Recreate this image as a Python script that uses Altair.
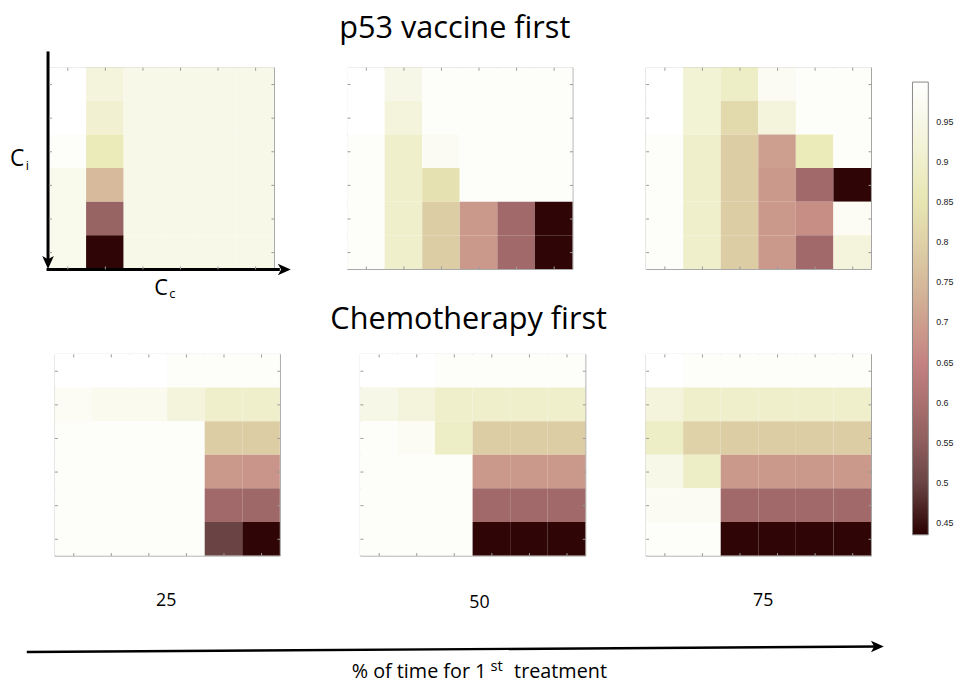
import altair as alt
import pandas as pd

# ---- data: cell values (rows top->bottom, cols left->right)
p53_25 = [
    [1.000, 0.930, 0.955, 0.955, 0.955, 0.955],
    [1.000, 0.910, 0.955, 0.955, 0.955, 0.955],
    [0.990, 0.870, 0.955, 0.955, 0.955, 0.955],
    [0.960, 0.750, 0.955, 0.955, 0.955, 0.955],
    [0.960, 0.565, 0.955, 0.955, 0.955, 0.955],
    [0.960, 0.440, 0.955, 0.955, 0.955, 0.955],
]
p53_50 = [
    [1.000, 0.950, 0.990, 0.990, 0.990, 0.990],
    [1.000, 0.930, 0.990, 0.990, 0.990, 0.990],
    [0.990, 0.900, 0.975, 0.990, 0.990, 0.990],
    [0.990, 0.900, 0.840, 0.990, 0.990, 0.990],
    [0.990, 0.900, 0.790, 0.690, 0.580, 0.440],
    [0.990, 0.900, 0.790, 0.690, 0.580, 0.440],
]
p53_75 = [
    [1.000, 0.915, 0.890, 0.975, 0.990, 0.990],
    [1.000, 0.915, 0.820, 0.930, 0.990, 0.990],
    [0.990, 0.900, 0.790, 0.700, 0.870, 0.990],
    [0.990, 0.900, 0.790, 0.690, 0.580, 0.440],
    [0.990, 0.900, 0.790, 0.690, 0.670, 0.980],
    [0.990, 0.900, 0.790, 0.690, 0.580, 0.930],
]
chemo_25 = [
    [1.000, 1.000, 1.000, 0.990, 0.990, 0.990],
    [0.980, 0.965, 0.965, 0.930, 0.900, 0.900],
    [0.990, 0.990, 0.990, 0.990, 0.790, 0.790],
    [0.990, 0.990, 0.990, 0.990, 0.690, 0.680],
    [0.990, 0.990, 0.990, 0.990, 0.580, 0.575],
    [0.990, 0.990, 0.990, 0.990, 0.500, 0.440],
]
chemo_50 = [
    [1.000, 1.000, 0.990, 0.990, 0.990, 0.990],
    [0.950, 0.930, 0.900, 0.900, 0.900, 0.900],
    [0.990, 0.980, 0.890, 0.790, 0.790, 0.790],
    [0.990, 0.990, 0.990, 0.690, 0.690, 0.690],
    [0.990, 0.990, 0.990, 0.580, 0.580, 0.580],
    [0.990, 0.990, 0.990, 0.440, 0.440, 0.440],
]
chemo_75 = [
    [1.000, 0.990, 0.990, 0.990, 0.990, 0.990],
    [0.930, 0.900, 0.900, 0.900, 0.900, 0.900],
    [0.890, 0.800, 0.790, 0.790, 0.790, 0.790],
    [0.955, 0.890, 0.690, 0.690, 0.690, 0.690],
    [0.975, 0.975, 0.580, 0.580, 0.580, 0.580],
    [0.990, 0.990, 0.440, 0.440, 0.440, 0.440],
]

row_titles = ["p53 vaccine first", "Chemotherapy first"]
pct_labels = ["25", "50", "75"]
axis_x_label = ["C", "c"]
axis_y_label = ["C", "i"]
bottom_title = ["% of time for 1", "st", "treatment"]
colorbar_ticks = [0.45, 0.5, 0.55, 0.6, 0.65, 0.7, 0.75, 0.8, 0.85, 0.9, 0.95]

# MATLAB "pink" colormap stops
cm_domain = [0.435, 0.506, 0.576, 0.647, 0.718, 0.788, 0.859, 0.929, 1.0]
cm_range = ["#2a0000", "#704a4a", "#9f6868", "#c38080", "#d0aa93",
            "#ddcca5", "#e9e9b4", "#f4f4dd", "#ffffff"]

FONT = "Open Sans"
W, H = 228, 204
TICK = "#9a9a9a"


def to_df(m):
    return pd.DataFrame([{"r": i, "c": j, "v": m[i][j]}
                         for i in range(len(m)) for j in range(len(m[0]))])


cscale = alt.Scale(domain=cm_domain, range=cm_range, interpolate="rgb", clamp=True)
legend = alt.Legend(orient="none", legendX=874, legendY=15, direction="vertical",
                    gradientLength=458, gradientThickness=16, values=colorbar_ticks,
                    format=".2~f", labelFontSize=9, labelFont="Liberation Sans",
                    labelColor="#222222", labelOffset=8, gradientStrokeColor="#888888",
                    gradientStrokeWidth=1, title=None, padding=0)


def ax(orient):
    return alt.Axis(orient=orient, title=None, labels=False, domain=False, grid=False,
                    ticks=True, tickSize=3, tickColor=TICK, tickWidth=1,
                    offset=-3, zindex=1)


one = pd.DataFrame({"k": [0]})


def txt(t, x, y, size, align="left", baseline="alphabetic"):
    return alt.Chart(pd.DataFrame({"t": [t]})).mark_text(
        font=FONT, fontSize=size, align=align, baseline=baseline, color="black"
    ).encode(text="t:N", x=alt.value(x), y=alt.value(y))


def head(x, y, path):
    return alt.Chart(one).mark_point(shape=path, filled=True, size=169, color="black",
                                     opacity=1, strokeWidth=0).encode(
        x=alt.value(x), y=alt.value(y))


def anchor(x, y):
    # invisible layout anchor (keeps the rows' extents predictable)
    return alt.Chart(one).mark_point(filled=True, opacity=0, size=1, strokeWidth=0).encode(
        x=alt.value(x), y=alt.value(y))


def panel(m, extras=()):
    df = to_df(m)
    sx = alt.Scale(paddingInner=0, paddingOuter=0)
    heat = alt.Chart(df).mark_rect().encode(
        x=alt.X("c:O", scale=sx, axis=ax("bottom")),
        y=alt.Y("r:O", scale=sx, axis=ax("left")),
        color=alt.Color("v:Q", scale=cscale, legend=legend),
    )
    frame = alt.Chart(df).mark_rect(opacity=0).encode(
        x=alt.X("c:O", axis=ax("top")),
        y=alt.Y("r:O", axis=ax("right")),
    )
    return alt.layer(heat, frame, *extras).resolve_axis(
        x="independent", y="independent").properties(width=W, height=H)


RIGHT = "M1,0L-1,-0.9L-0.5,0L-1,0.9Z"
DOWN = "M0,1L-0.9,-1L0,-0.5L0.9,-1Z"
AX = -39.5

p1_extras = [
    alt.Chart(one).mark_rule(color="black", strokeWidth=3).encode(
        x=alt.value(-0.5), y=alt.value(-16), y2=alt.value(194)),
    head(-0.5, 197.5, DOWN),
    alt.Chart(one).mark_rule(color="black", strokeWidth=3).encode(
        y=alt.value(204.5), x=alt.value(-2), x2=alt.value(234)),
    head(238.5, 204.5, RIGHT),
    txt(axis_y_label[0], -39, 100, 23),
    txt(axis_y_label[1], -23, 104, 13),
    txt(axis_x_label[0], 107, 230, 22),
    txt(axis_x_label[1], 122, 233, 13),
    anchor(AX, -54.5),
    anchor(AX, 236),
]

p1 = panel(p53_25, p1_extras)
p2 = panel(p53_50, [txt(row_titles[0], 109, -30, 31, align="center")])
p3 = panel(p53_75)
p4 = panel(chemo_25, [txt(pct_labels[0], 113, 250, 18, align="center", baseline="middle")])
p5 = panel(chemo_50, [txt(row_titles[1], 110, -25, 31, align="center"),
                      txt(pct_labels[1], 121, 252, 18, align="center", baseline="middle")])
p6 = panel(chemo_75, [txt(pct_labels[2], 119, 250, 18, align="center", baseline="middle")])

noframe = alt.ViewBackground(stroke="transparent")

spacer = alt.layer(
    anchor(AX, -50), anchor(AX, 265)
).properties(width=6, height=10, view=noframe)

arrow = alt.layer(
    alt.Chart(one).mark_rule(color="black", strokeWidth=2.5).encode(
        x=alt.value(-22), y=alt.value(11.5), x2=alt.value(840), y2=alt.value(6)),
    head(838.5, 6, RIGHT),
    txt(bottom_title[0], 443, 38, 20, align="right"),
    txt(bottom_title[1], 447, 31, 15),
    txt(bottom_title[2], 471, 38, 20),
    anchor(AX, -21),
).properties(width=228, height=10, view=noframe)

top_row = alt.hconcat(p1, p2, p3, spacing=74, bounds="flush")
bottom_row = alt.hconcat(
    spacer,
    alt.hconcat(p4, alt.hconcat(p5, p6, spacing=61, bounds="flush"),
                spacing=81, bounds="flush"),
    spacing=0, bounds="flush")

chart = alt.vconcat(top_row, bottom_row, arrow, spacing=2, bounds="full").properties(
    padding={"left": 0, "top": 0, "right": 0, "bottom": 0}
).configure_view(stroke="#a0a0a0", strokeWidth=1)

chart.save("out.html", embed_options={"renderer": "svg", "actions": False})
